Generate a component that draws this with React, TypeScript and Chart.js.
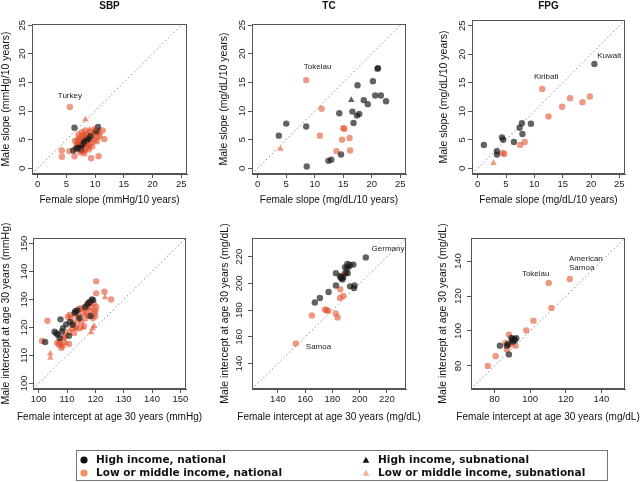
import React, { useEffect, useRef } from 'react';
import { Chart, registerables } from 'chart.js';
Chart.register(...registerables);

type P = [number, number];
type Note = [string, number, number, CanvasTextAlign];

const W = 640;
const H = 482;

// ---------- tick labels & axis ranges ----------
const SLOPE_TICKS = [0, 5, 10, 15, 20, 25];
const SBP_INT_TICKS = [100, 110, 120, 130, 140, 150];
const TC_INT_TICKS = [140, 160, 180, 200, 220];
const FPG_INT_TICKS = [80, 100, 120, 140];
const SLOPE_RANGE: P = [-1, 26];
const SLOPE_RANGE_Y_SHORT: P = [-1, 25.2];
const SBP_INT_RANGE: P = [98, 152];
const TC_INT_RANGE: P = [121, 234];
const FPG_INT_RANGE: P = [66.8, 153.2];

// ---------- SBP slope ----------
const SBP_SLOPE_HI_NAT: P[] = [[6.4,7.1],[10.5,7.2],[6.2,3.1],[7.2,3.7],[8.1,4.6],[7.5,3.3],[8.5,4.9],[9.2,5.6],[10.2,6.5],[6.8,3.5],[7.8,4.2],[8.8,5.1]];
const SBP_SLOPE_LM_NAT: P[] = [[5.6,10.7],[4.2,3.1],[4.2,2.0],[6.4,2.1],[9.3,1.75],[10.6,2.1],[11.6,5.1],[10.3,4.7],[5.5,3.0],[11.3,6.6],[10.7,6.3],[9.8,6.8],[9.2,6.4],[8.6,6.0],[8.0,5.8],[7.5,5.5],[7.2,5.0],[7.0,4.6],[6.8,4.2],[6.9,3.8],[7.3,3.5],[7.6,4.0],[7.9,4.4],[8.2,4.9],[8.5,5.3],[8.8,5.6],[9.1,5.1],[9.4,4.5],[9.0,4.0],[8.6,3.6],[8.2,3.2],[7.8,3.0],[7.4,2.8],[6.6,3.4],[7.1,5.9],[7.7,6.3],[8.3,6.6],[9.6,5.8],[10.1,6.1],[10.4,5.5],[6.5,4.8],[7.9,5.1],[8.4,4.2],[9.9,4.9],[8.9,3.3],[8.1,2.6],[9.5,3.8],[10.8,5.6]];
const SBP_SLOPE_HI_SUB: P[] = [[7.6,3.9]];
const SBP_SLOPE_LM_SUB: P[] = [[8.3,8.5],[7.7,3.0],[8.0,5.6],[9.0,6.7],[7.2,4.4],[8.7,4.1],[10.0,6.9],[6.9,5.2]];

// ---------- TC slope ----------
const TC_SLOPE_HI_NAT: P[] = [[3.7,5.7],[5.0,7.8],[8.5,7.3],[8.6,0.3],[12.4,1.3],[12.9,1.5],[14.6,2.4],[14.3,9.6],[17.5,14.5],[16.6,9.9],[16.8,7.9],[17.4,9.2],[17.8,9.5],[18.6,11.9],[19.3,11.2],[20.2,15.2],[21.0,17.4],[21.1,17.5],[20.6,12.7],[21.6,12.7],[22.5,11.7]];
const TC_SLOPE_LM_NAT: P[] = [[8.5,15.4],[11.2,10.4],[10.9,5.7],[15.0,7.0],[15.2,6.9],[14.8,5.0],[16.1,5.3],[13.8,3.0],[16.2,3.1]];
const TC_SLOPE_HI_SUB: P[] = [[16.4,11.9]];
const TC_SLOPE_LM_SUB: P[] = [[4.0,3.4]];

// ---------- FPG slope ----------
const FPG_SLOPE_HI_NAT: P[] = [[20.6,18.3],[1.1,4.1],[3.4,3.0],[3.4,2.4],[4.3,5.4],[4.5,5.0],[6.4,4.6],[7.4,7.1],[7.8,7.9],[7.9,6.0],[9.4,7.8]];
const FPG_SLOPE_LM_NAT: P[] = [[11.4,13.9],[12.5,9.1],[14.9,10.8],[16.3,12.3],[18.5,11.6],[19.8,12.6],[7.5,4.1],[8.3,4.6],[4.4,2.7],[4.7,2.5]];
const FPG_SLOPE_HI_SUB: P[] = [];
const FPG_SLOPE_LM_SUB: P[] = [[2.8,0.9]];

// ---------- SBP intercept ----------
const SBP_INT_HI_NAT: P[] = [[102.3,114.8],[107.7,122.9],[105.6,118.5],[106.2,117.9],[106.8,117.4],[108.6,119.7],[110.7,117.0],[112.7,125.3],[113.6,126.1],[114.4,123.4],[116.4,127.3],[117.3,128.5],[111.0,122.0],[109.7,121.1],[107.4,116.2],[118.8,130.0],[118.0,129.1],[118.3,124.1],[119.2,129.8],[113.0,125.8],[108.2,118.6],[112.0,121.0]];
const SBP_INT_LM_NAT: P[] = [[103.1,122.4],[101.2,115.2],[120.3,136.5],[120.3,132.2],[123.2,132.8],[125.6,130.0],[120.3,127.3],[119.7,125.3],[119.1,123.4],[107.2,113.8],[108.0,112.7],[107.4,114.8],[108.6,115.6],[110.7,114.1],[110.7,118.5],[111.9,119.7],[113.3,120.3],[114.4,119.7],[115.0,122.0],[116.5,123.2],[117.4,124.4],[115.6,125.3],[115.0,126.7],[113.0,125.0],[111.5,123.4],[110.3,123.8],[109.5,117.4],[112.1,121.5],[113.8,122.6],[118.0,126.1],[116.8,126.7],[118.5,127.3],[119.5,128.5],[117.0,127.9],[108.5,113.5],[114.0,124.0],[116.0,120.5],[120.0,124.0],[109.0,116.5],[112.5,118.0],[111.0,124.5],[117.8,128.8],[114.5,126.8],[106.5,114.5],[120.0,126.0]];
const SBP_INT_HI_SUB: P[] = [];
const SBP_INT_LM_SUB: P[] = [[104.1,110.7],[104.1,109.1],[123.4,130.8],[119.1,119.7],[119.6,120.5],[118.5,118.3],[115.6,119.9],[109.7,114.4],[113.0,119.5],[116.5,125.0],[108.0,114.0]];

// ---------- TC intercept ----------
const TC_INT_HI_NAT: P[] = [[167.1,185.7],[170.8,189.1],[177.2,193.6],[182.6,198.5],[182.6,207.7],[186.3,204.2],[187.3,203.0],[188.0,204.7],[185.6,205.4],[191.0,211.6],[193.0,213.8],[195.4,214.1],[191.0,214.6],[189.3,212.1],[191.2,207.7],[193.0,197.8],[196.2,198.5],[195.9,196.5],[204.5,219.5],[189.8,207.9],[186.8,203.8]];
const TC_INT_LM_NAT: P[] = [[153.1,155.1],[164.9,176.0],[174.5,180.5],[176.9,179.5],[175.8,180.0],[182.4,177.5],[183.8,174.6],[185.6,189.1],[188.0,190.6],[185.8,195.6],[187.3,205.9],[189.3,207.9]];
const TC_INT_HI_SUB: P[] = [[192.0,212.5]];
const TC_INT_LM_SUB: P[] = [];

// ---------- FPG intercept ----------
const FPG_INT_HI_NAT: P[] = [[83.0,91.6],[88.1,86.6],[86.9,91.6],[89.8,94.9],[90.9,95.5],[92.2,95.9],[90.3,93.9],[91.3,94.7],[87.5,92.5],[89.5,96.0]];
const FPG_INT_LM_NAT: P[] = [[122.2,129.7],[110.4,127.5],[111.9,113.2],[101.8,105.9],[97.8,100.3],[88.1,97.8],[76.2,80.0],[80.6,85.6],[86.2,93.1],[86.9,89.4],[91.8,91.6],[88.8,92.2]];
const FPG_INT_HI_SUB: P[] = [];
const FPG_INT_LM_SUB: P[] = [];

// ---------- point labels ----------
const SBP_SLOPE_NOTES: Note[] = [['Turkey', 5.6, 12.6, 'center']];
const TC_SLOPE_NOTES: Note[] = [['Tokelau', 10.5, 17.8, 'center']];
const FPG_SLOPE_NOTES: Note[] = [['Kiribati', 12.1, 16.1, 'center'], ['Kuwait', 23.2, 19.7, 'center']];
const SBP_INT_NOTES: Note[] = [];
const TC_INT_NOTES: Note[] = [['Germany', 220.8, 225.7, 'center'], ['Samoa', 160.5, 152.3, 'left']];
const FPG_INT_NOTES: Note[] = [['Tokelau', 103.1, 132.9, 'center'], ['American', 121.8, 141.5, 'left'], ['Samoa', 121.8, 135.9, 'left']];

const TITLES = ['SBP', 'TC', 'FPG'];
const LEGEND_LABELS = ['High income, national', 'Low or middle income, national', 'High income, subnational', 'Low or middle income, subnational'];

const HI = 'rgba(25,25,25,0.68)';
const LM = 'rgba(228,78,42,0.58)';
const AX = '#555';
const FONT = '"Liberation Sans", Arial, sans-serif';

interface Panel {
  box: [number, number, number, number];
  title?: string;
  xTitle: string;
  yTitle: string;
  xRange: P;
  yRange: P;
  ticks: number[];
  series: P[][];
  notes: Note[];
  yTitleX: number;
  xTitleY: number;
  ytp: number;
}

const PANELS: Panel[] = [
  { box: [32, 24, 187, 174], title: TITLES[0], xTitle: 'Female slope (mmHg/10 years)', yTitle: 'Male slope (mmHg/10 years)', xRange: SLOPE_RANGE, yRange: SLOPE_RANGE_Y_SHORT, ticks: SLOPE_TICKS, series: [SBP_SLOPE_HI_NAT, SBP_SLOPE_LM_NAT, SBP_SLOPE_HI_SUB, SBP_SLOPE_LM_SUB], notes: SBP_SLOPE_NOTES, yTitleX: 6.5, xTitleY: 200, ytp: 0.5 },
  { box: [252, 24, 406, 174], title: TITLES[1], xTitle: 'Female slope (mg/dL/10 years)', yTitle: 'Male slope (mg/dL/10 years)', xRange: SLOPE_RANGE, yRange: SLOPE_RANGE_Y_SHORT, ticks: SLOPE_TICKS, series: [TC_SLOPE_HI_NAT, TC_SLOPE_LM_NAT, TC_SLOPE_HI_SUB, TC_SLOPE_LM_SUB], notes: TC_SLOPE_NOTES, yTitleX: 224, xTitleY: 200, ytp: 0.5 },
  { box: [472, 20, 625, 174], title: TITLES[2], xTitle: 'Female slope (mg/dL/10 years)', yTitle: 'Male slope (mg/dL/10 years)', xRange: SLOPE_RANGE, yRange: SLOPE_RANGE, ticks: SLOPE_TICKS, series: [FPG_SLOPE_HI_NAT, FPG_SLOPE_LM_NAT, FPG_SLOPE_HI_SUB, FPG_SLOPE_LM_SUB], notes: FPG_SLOPE_NOTES, yTitleX: 444, xTitleY: 200, ytp: 0.5 },
  { box: [33, 238, 186, 389], xTitle: 'Female intercept at age 30 years (mmHg)', yTitle: 'Male intercept at age 30 years (mmHg)', xRange: SBP_INT_RANGE, yRange: SBP_INT_RANGE, ticks: SBP_INT_TICKS, series: [SBP_INT_HI_NAT, SBP_INT_LM_NAT, SBP_INT_HI_SUB, SBP_INT_LM_SUB], notes: SBP_INT_NOTES, yTitleX: 6.5, xTitleY: 417, ytp: -3 },
  { box: [252, 238, 406, 389], xTitle: 'Female intercept at age 30 years (mg/dL)', yTitle: 'Male intercept at age 30 years (mg/dL)', xRange: TC_INT_RANGE, yRange: TC_INT_RANGE, ticks: TC_INT_TICKS, series: [TC_INT_HI_NAT, TC_INT_LM_NAT, TC_INT_HI_SUB, TC_INT_LM_SUB], notes: TC_INT_NOTES, yTitleX: 225, xTitleY: 417.5, ytp: 0.5 },
  { box: [471, 238, 625, 389], xTitle: 'Female intercept at age 30 years (mg/dL)', yTitle: 'Male intercept at age 30 years (mg/dL)', xRange: FPG_INT_RANGE, yRange: FPG_INT_RANGE, ticks: FPG_INT_TICKS, series: [FPG_INT_HI_NAT, FPG_INT_LM_NAT, FPG_INT_HI_SUB, FPG_INT_LM_SUB], notes: FPG_INT_NOTES, yTitleX: 443, xTitleY: 417.5, ytp: 0.5 },
];

function makeConfig(p: Panel): any {
  const [l, t, r, b] = p.box;
  const yW = 30;
  const xH = 30;
  const padLeft = l - yW;
  const padBottom = H - b - xH;
  const toXY = (arr: P[]) => arr.map(([x, y]) => ({ x, y }));
  const [hiNat, lmNat, hiSub, lmSub] = p.series;
  const ticksFrom = (s: any) => { s.ticks = p.ticks.map((v) => ({ value: v })); };
  const lo = Math.min(p.xRange[0], p.yRange[0]);
  const hi = Math.max(p.xRange[1], p.yRange[1]);
  const decor = {
    id: 'decor',
    afterDatasetsDraw(chart: any) {
      const { ctx, chartArea: a, scales } = chart;
      ctx.save();
      ctx.strokeStyle = AX;
      ctx.lineWidth = 1;
      ctx.strokeRect(Math.round(a.left) + 0.5, Math.round(a.top) + 0.5, Math.round(a.right - a.left) - 1, Math.round(a.bottom - a.top) - 1);
      ctx.fillStyle = '#222';
      ctx.font = '8px ' + FONT;
      ctx.textBaseline = 'middle';
      for (const [txt, x, y, al] of p.notes) {
        ctx.textAlign = al;
        ctx.fillText(txt, scales.x.getPixelForValue(x), scales.y.getPixelForValue(y));
      }
      ctx.fillStyle = '#111';
      ctx.textAlign = 'center';
      ctx.font = '10px ' + FONT;
      ctx.fillText(p.xTitle, (a.left + a.right) / 2, p.xTitleY);
      ctx.save();
      ctx.translate(p.yTitleX, (a.top + a.bottom) / 2);
      ctx.rotate(-Math.PI / 2);
      ctx.font = '10.5px ' + FONT;
      ctx.fillText(p.yTitle, 0, 0);
      ctx.restore();
      if (p.title) {
        ctx.font = 'bold 10px ' + FONT;
        ctx.fillText(p.title, (a.left + a.right) / 2, 6.5);
      }
      ctx.restore();
    },
  };
  return {
    type: 'scatter',
    data: {
      datasets: [
        { type: 'line', data: [{ x: lo, y: lo }, { x: hi, y: hi }], borderColor: '#8c8c8c', borderWidth: 1, borderDash: [1.5, 2.5], pointRadius: 0, order: 10 },
        { data: toXY(lmNat), backgroundColor: LM, borderWidth: 0, pointRadius: 3.2, pointStyle: 'circle', order: 4 },
        { data: toXY(hiNat), backgroundColor: HI, borderWidth: 0, pointRadius: 3.2, pointStyle: 'circle', order: 3 },
        { data: toXY(hiSub), backgroundColor: HI, borderWidth: 0, pointRadius: 3.8, pointStyle: 'triangle', order: 2 },
        { data: toXY(lmSub), backgroundColor: LM, borderWidth: 0, pointRadius: 3.8, pointStyle: 'triangle', order: 1 },
      ],
    },
    options: {
      responsive: false,
      animation: false,
      events: [],
      layout: { padding: { left: padLeft, top: t, right: W - r, bottom: padBottom } },
      plugins: { legend: { display: false }, tooltip: { enabled: false }, title: { display: false } },
      scales: {
        x: {
          type: 'linear', position: 'bottom', min: p.xRange[0], max: p.xRange[1],
          afterBuildTicks: ticksFrom,
          afterFit: (s: any) => { s.height = xH; },
          grid: { display: true, drawOnChartArea: false, drawTicks: true, tickLength: 4, color: AX },
          border: { display: true, color: AX },
          ticks: { font: { size: 9.5, family: FONT }, color: '#222', padding: 1, maxRotation: 0, autoSkip: false },
          title: { display: false },
        },
        y: {
          type: 'linear', position: 'left', min: p.yRange[0], max: p.yRange[1],
          afterBuildTicks: ticksFrom,
          afterFit: (s: any) => { s.width = yW; },
          grid: { display: true, drawOnChartArea: false, drawTicks: true, tickLength: 4, color: AX },
          border: { display: true, color: AX },
          ticks: { font: { size: 9.5, family: FONT }, color: '#222', padding: p.ytp, minRotation: 90, maxRotation: 90, crossAlign: 'center', autoSkip: false },
          title: { display: false },
        },
      },
    },
    plugins: [decor],
  };
}

function PanelChart({ p }: { p: Panel }) {
  const ref = useRef<HTMLCanvasElement>(null);
  useEffect(() => {
    if (!ref.current) return;
    const chart = new Chart(ref.current, makeConfig(p));
    return () => chart.destroy();
  }, [p]);
  return <canvas ref={ref} width={W} height={H} style={{ position: 'absolute', left: 0, top: 0, width: W, height: H }} />;
}

function Marker({ shape, color }: { shape: 'circle' | 'triangle'; color: string }) {
  return (
    <svg width={10} height={10} style={{ position: 'absolute', left: -5, top: -5 }}>
      {shape === 'circle' ? <circle cx={5} cy={5} r={3.6} fill={color} /> : <polygon points="5,1.8 8.3,7.8 1.7,7.8" fill={color} />}
    </svg>
  );
}

const LEGEND_ITEMS: { shape: 'circle' | 'triangle'; color: string; mx: number; my: number }[] = [
  { shape: 'circle', color: '#111', mx: 84, my: 460 },
  { shape: 'circle', color: '#F0925E', mx: 84, my: 473 },
  { shape: 'triangle', color: '#111', mx: 366, my: 460 },
  { shape: 'triangle', color: '#F2B08E', mx: 366, my: 473 },
];

export default function App() {
  return (
    <div style={{ position: 'absolute', left: 0, top: 0, width: W, height: H, background: '#fff', overflow: 'hidden' }}>
      {PANELS.map((p, i) => <PanelChart key={i} p={p} />)}
      <div style={{ position: 'absolute', left: 76, top: 450, width: 532, height: 31, border: '1px solid #777', boxSizing: 'border-box' }} />
      {LEGEND_ITEMS.map((it, i) => (
        <div key={i}>
          <div style={{ position: 'absolute', left: it.mx, top: it.my, width: 0, height: 0 }}>
            <Marker shape={it.shape} color={it.color} />
          </div>
          <div style={{ position: 'absolute', left: it.mx + 12, top: it.my - 7, height: 14, lineHeight: '14px', whiteSpace: 'nowrap', font: 'bold 10.5px "DejaVu Sans", Verdana, sans-serif', color: '#111' }}>
            {LEGEND_LABELS[i]}
          </div>
        </div>
      ))}
    </div>
  );
}
